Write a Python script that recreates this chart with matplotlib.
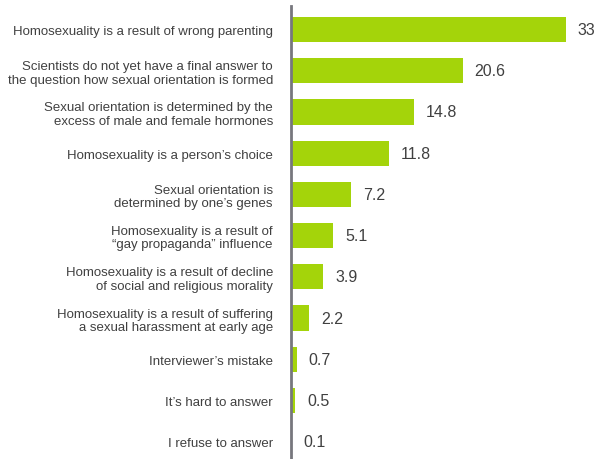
import numpy as np
import matplotlib.pyplot as plt

plt.rcParams['font.family'] = ['Liberation Sans', 'DejaVu Sans']

categories = [
    'Homosexuality is a result of wrong parenting',
    'Scientists do not yet have a final answer to\nthe question how sexual orientation is formed',
    'Sexual orientation is determined by the\nexcess of male and female hormones',
    'Homosexuality is a person\u2019s choice',
    'Sexual orientation is\ndetermined by one\u2019s genes',
    'Homosexuality is a result of\n\u201cgay propaganda\u201d influence',
    'Homosexuality is a result of decline\nof social and religious morality',
    'Homosexuality is a result of suffering\na sexual harassment at early age',
    'Interviewer\u2019s mistake',
    'It\u2019s hard to answer',
    'I refuse to answer',
]
values = [33, 20.6, 14.8, 11.8, 7.2, 5.1, 3.9, 2.2, 0.7, 0.5, 0.1]
value_labels = ['33', '20.6', '14.8', '11.8', '7.2', '5.1', '3.9', '2.2', '0.7', '0.5', '0.1']

fig = plt.figure(figsize=(5.95, 4.60), dpi=100)
ax = fig.add_axes([291 / 595, 0, 304 / 595, 453 / 460])

y = np.arange(len(values))
ax.barh(y, values, height=0.61, color='#a4d40a', zorder=2)

for yi, v, lab in zip(y, values, value_labels):
    ax.annotate(lab, (v, yi), xytext=(8.5, 0), textcoords='offset points',
                ha='left', va='center', fontsize=11.5, color='#404040')

ax.set_yticks(y)
ax.set_yticklabels(categories, fontsize=9.5, color='#404040', linespacing=1.15)
ax.tick_params(axis='y', length=0, pad=13)
ax.set_xticks([])
ax.set_xlim(0, 36.5)
ax.set_ylim(10.42, -0.57)

for s in ['top', 'right', 'bottom']:
    ax.spines[s].set_visible(False)
ax.spines['left'].set_color('#77777d')
ax.spines['left'].set_linewidth(2)
ax.spines['left'].set_zorder(3)

fig.savefig('out.png', dpi=100)
